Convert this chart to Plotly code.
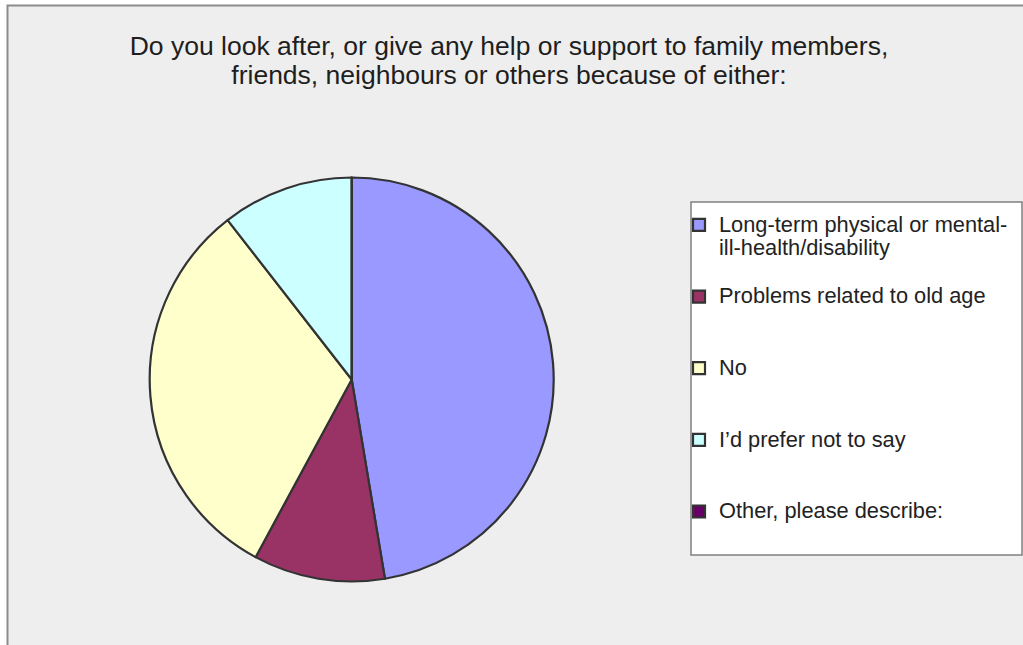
import plotly.graph_objects as go

categories = [
    "Long-term physical or mental-ill-health/disability",
    "Problems related to old age",
    "No",
    "I\u2019d prefer not to say",
    "Other, please describe:",
]
legend_lines = [
    ["Long-term physical or mental-", "ill-health/disability"],
    ["Problems related to old age"],
    ["No"],
    ["I\u2019d prefer not to say"],
    ["Other, please describe:"],
]
values = [9, 2, 6, 2, 0]
colors = ["#9999FF", "#993366", "#FFFFCC", "#CCFFFF", "#660066"]
title_lines = [
    "Do you look after, or give any help or support to family members,",
    "friends, neighbours or others because of either:",
]

W, H = 1023, 645
FONT = "Liberation Sans, Arial, sans-serif"


def px_x(p):
    return p / W


def px_y(p):
    return 1 - p / H


def legend_label(lines, n=3):
    parts = ["<span style='font-size:21.8px'>%s</span>" % s for s in lines]
    parts += [" "] * (n - len(lines))
    return "<br>".join(parts)


labels = [legend_label(l) for l in legend_lines]

fig = go.Figure(
    go.Pie(
        labels=labels,
        values=values,
        customdata=categories,
        sort=False,
        direction="clockwise",
        rotation=0,
        textinfo="none",
        hovertemplate="%{customdata}: %{value} (%{percent})<extra></extra>",
        marker=dict(colors=colors, line=dict(color="#333333", width=2.2)),
        domain=dict(x=[px_x(149.7), px_x(553.7)], y=[px_y(581.5), px_y(177.5)]),
    )
)

title_text = "<br>".join("<span style='font-size:26.5px'>%s</span>" % s for s in title_lines)

fig.update_layout(
    width=W,
    height=H,
    autosize=False,
    margin=dict(l=0, r=0, t=0, b=0),
    paper_bgcolor="#FFFFFF",
    plot_bgcolor="#EEEEEE",
    font=dict(family=FONT, color="#222222"),
    title=dict(
        text=title_text,
        font=dict(family=FONT, size=22, color="#1E1E1E"),
        x=px_x(509),
        xanchor="center",
        xref="paper",
        yref="container",
        y=px_y(55),
        yanchor="top",
    ),
    legend=dict(
        x=px_x(679),
        xanchor="left",
        y=px_y(207),
        yanchor="top",
        bgcolor="rgba(0,0,0,0)",
        borderwidth=0,
        font=dict(family=FONT, size=17.6, color="#222222"),
        valign="top",
        traceorder="normal",
    ),
    shapes=[
        dict(
            type="rect", xref="paper", yref="paper",
            x0=px_x(7.5), x1=1.05, y0=-0.05, y1=px_y(5.5),
            fillcolor="#EEEEEE", line=dict(color="#8C8C8C", width=2), layer="below",
        ),
        dict(
            type="rect", xref="paper", yref="paper",
            x0=px_x(691), x1=px_x(1022), y0=px_y(555), y1=px_y(202),
            fillcolor="#FFFFFF", line=dict(color="#808080", width=1.5), layer="below",
        ),
    ],
)

fig.write_html(
    "out.html",
    config={"displayModeBar": False},
    post_script="document.body.style.margin='0';document.body.style.overflow='hidden';",
)
